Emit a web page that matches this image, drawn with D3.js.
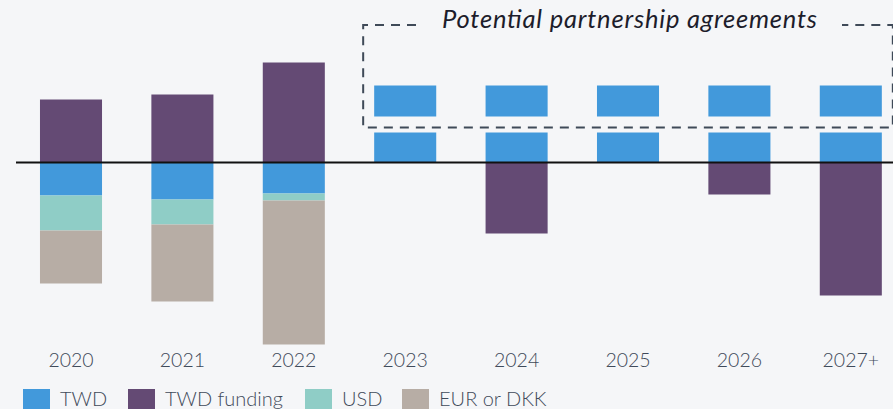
<!DOCTYPE html>
<html><head><meta charset="utf-8">
<script src="https://cdn.jsdelivr.net/npm/d3@7/dist/d3.min.js"></script>
<style>
html,body{margin:0;padding:0;background:#f5f6f8;}
svg{display:block;}
text{font-family:Lato,"Open Sans",sans-serif;}
</style></head>
<body>
<svg id="c" width="893" height="409"></svg>
<script>
// ---- data (units arbitrary) ----
const years = ["2020","2021","2022","2023","2024","2025","2026","2027+"];
const twd        = [-3.3, -3.7, -3.1, 3.0, 3.0, 3.0, 3.0, 3.0];
const twdFunding = [ 6.3,  6.8, 10.0, 0.0, -7.1, 0.0, -3.2, -13.3];
const usd        = [-3.5, -2.5, -0.7, 0, 0, 0, 0, 0];
const eurDkk     = [-5.3, -7.7, -14.4, 0, 0, 0, 0, 0];
const potential  = [0, 0, 0, 3.1, 3.1, 3.1, 3.1, 3.1];
const potentialGap = 1.6;
const seriesNames = ["TWD", "TWD funding", "USD", "EUR or DKK"];
const annotation = "Potential partnership agreements";

const colors = {"TWD":"#4299db","TWD funding":"#644a74","USD":"#8fcdc6","EUR or DKK":"#b7ada5"};

const rows = years.map((y,i)=>({year:y,"TWD":twd[i],"TWD funding":twdFunding[i],"USD":usd[i],"EUR or DKK":eurDkk[i]}));

const svg = d3.select("#c");
const x = d3.scaleBand().domain(years).range([15.3, 906.5]).paddingInner(0.443).paddingOuter(0.2215);
const y = d3.scaleLinear().domain([-18, 16]).range([342.5, 2.5]);

const stack = d3.stack().keys(seriesNames).offset(d3.stackOffsetDiverging);
const layers = stack(rows);

const g = svg.append("g");
layers.forEach(layer=>{
  g.selectAll(null).data(layer.filter(d=>d[1]-d[0]!==0)).enter().append("rect")
    .attr("x", d=>x(d.data.year))
    .attr("width", x.bandwidth())
    .attr("y", d=>y(d[1]))
    .attr("height", d=>y(d[0])-y(d[1]))
    .attr("fill", colors[layer.key]);
});

// potential partnership blocks
const pot = years.map((yr,i)=>({year:yr, base:Math.max(twd[i],0)+potentialGap, v:potential[i]})).filter(d=>d.v>0);
g.selectAll(null).data(pot).enter().append("rect")
  .attr("x", d=>x(d.year)).attr("width", x.bandwidth())
  .attr("y", d=>y(d.base+d.v)).attr("height", d=>y(d.base)-y(d.base+d.v))
  .attr("fill", colors["TWD"]);

// zero line
svg.append("line").attr("x1",16).attr("x2",893).attr("y1",y(0)).attr("y2",y(0))
  .attr("stroke","#111").attr("stroke-width",2);

// dashed annotation box
const bx0 = x("2023") - 11, bx1 = x("2027+") + x.bandwidth() + 11;
const by1 = y(3.0+potentialGap) + 11, by0 = 25;
const tx0 = 416, tx1 = 842;
const dash = {stroke:"#3f4a58","stroke-width":2,"stroke-dasharray":"9,7",fill:"none"};
function dl(pts){ const p=svg.append("path").attr("d", d3.line()(pts)); Object.entries(dash).forEach(([k,v])=>p.attr(k,v)); }
dl([[tx0,by0],[bx0,by0],[bx0,by1],[bx1,by1],[bx1,by0],[tx1,by0]]);
svg.append("text").attr("x",442).attr("y",28)
  .attr("font-size",25.5).attr("font-style","italic").attr("fill","#1d1d2b")
  .attr("textLength",375).attr("lengthAdjust","spacing").text(annotation);

// x axis labels
svg.selectAll(".xl").data(years).enter().append("text")
  .attr("x", d=>x(d)+x.bandwidth()/2).attr("y",367).attr("text-anchor","middle")
  .attr("font-size",19.5).attr("font-weight",300).attr("fill","#3f4a5a").text(d=>d);

// legend
const legX = [23, 128, 305, 402];
seriesNames.forEach((s,i)=>{
  svg.append("rect").attr("x",legX[i]).attr("y",389).attr("width",27).attr("height",22).attr("fill",colors[s]);
  svg.append("text").attr("x",legX[i]+37).attr("y",406).attr("font-size",20).attr("font-weight",300).attr("fill","#3f4a5a").text(s);
});
</script>
</body></html>
